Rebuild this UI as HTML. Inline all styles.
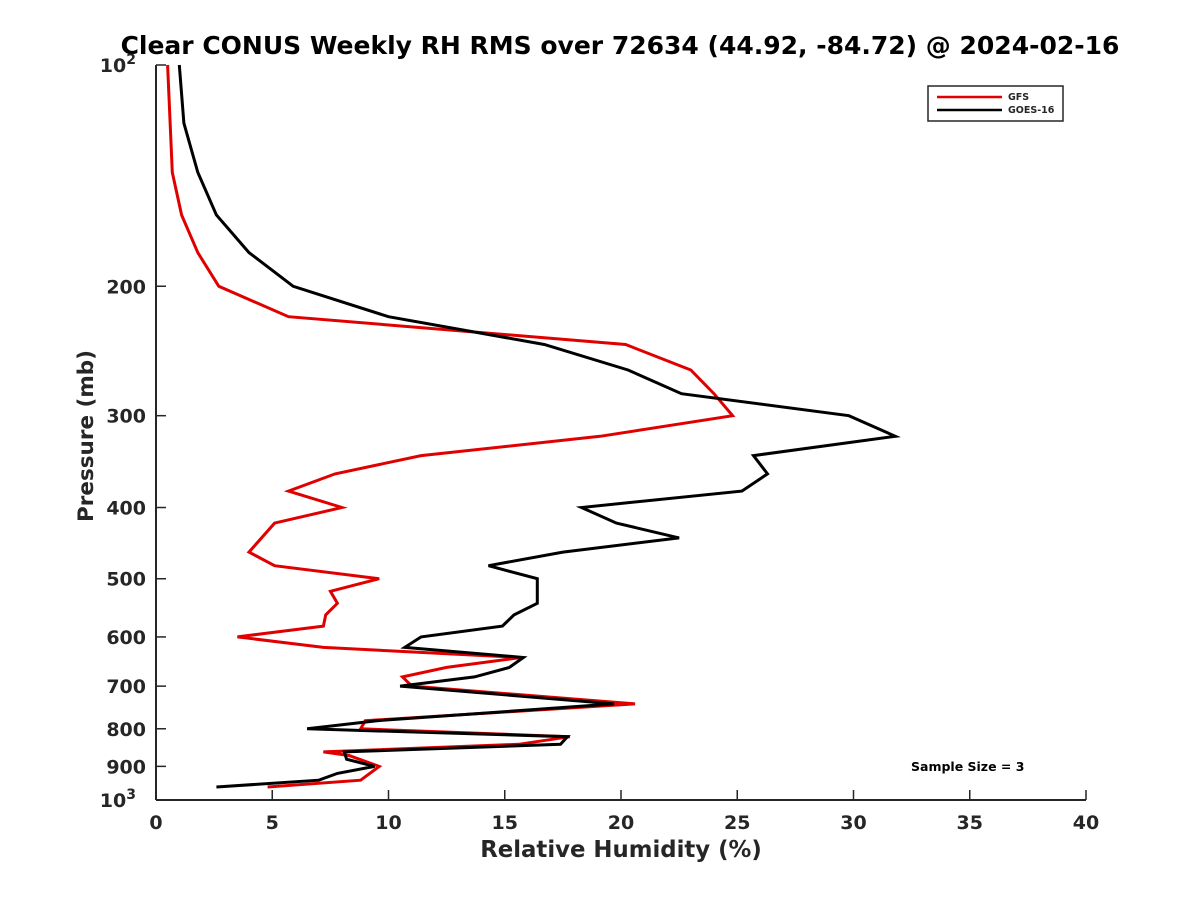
<!DOCTYPE html>
<html><head><meta charset="utf-8"><style>
body{margin:0;background:#fff}
svg text{font-family:"DejaVu Sans","Liberation Sans",sans-serif;font-weight:bold;fill:#262626}
</style></head><body>
<svg id="chart" width="1200" height="900" viewBox="0 0 1200 900" xmlns="http://www.w3.org/2000/svg">
<rect width="1200" height="900" fill="#fff"/>
<text x="620" y="54" font-size="25" text-anchor="middle" style="fill:#000">Clear CONUS Weekly RH RMS over 72634 (44.92, -84.72) @ 2024-02-16</text>
<g id="axes"></g>
<g id="series"></g>
<text x="621" y="857" font-size="22.8" text-anchor="middle">Relative Humidity (%)</text>
<text transform="translate(93,436) rotate(-90)" font-size="21.5" text-anchor="middle">Pressure (mb)</text>
<g>
<rect x="928" y="86" width="135" height="35" fill="#fff" stroke="#262626" stroke-width="1.5"/>
<line x1="937" y1="97" x2="1002" y2="97" stroke="#e00000" stroke-width="2.5"/>
<text x="1008" y="100" font-size="9.5">GFS</text>
<line x1="937" y1="110" x2="1002" y2="110" stroke="#000" stroke-width="2.5"/>
<text x="1008" y="113" font-size="9.5">GOES-16</text>
</g>
<text x="911" y="771" font-size="12.5" style="fill:#000">Sample Size = 3</text>
</svg>
<script>
const xTicks=[0,5,10,15,20,25,30,35,40];
const yTicks=[100,200,300,400,500,600,700,800,900,1000];
const yTickLabels=["10²","200","300","400","500","600","700","800","900","10³"];
const gfsPressure=[100,140,160,180,200,220,240,260,280,300,320,340,360,380,400,420,460,480,500,520,540,560,580,600,620,640,660,680,700,740,780,800,820,840,860,870,900,940,960];
const gfsRH=[0.5,0.7,1.1,1.8,2.7,5.7,20.2,23.0,24.0,24.8,19.1,11.4,7.7,5.7,8.0,5.1,4.0,5.1,9.6,7.5,7.8,7.3,7.2,3.5,7.2,15.7,12.5,10.6,11.0,20.6,9.0,8.8,17.8,15.6,7.2,8.3,9.6,8.8,4.8];
const goesPressure=[100,120,140,160,180,200,220,240,260,280,300,320,340,360,380,400,420,440,460,480,500,540,560,580,600,620,640,660,680,700,740,780,800,820,840,860,880,900,920,940,960];
const goesRH=[1.0,1.2,1.8,2.6,4.0,5.9,10.0,16.7,20.3,22.6,29.8,31.8,25.7,26.3,25.2,18.3,19.8,22.5,17.5,14.3,16.4,16.4,15.4,14.9,11.4,10.7,15.8,15.2,13.7,10.5,19.7,9.5,6.5,17.7,17.4,8.1,8.2,9.4,7.8,7.0,2.6];
const L=156,R=1086,T=65,B=800;
const xs=v=>L+(v-0)/40*(R-L);
const ys=p=>T+(B-T)*Math.log10(p/100);
const NS="http://www.w3.org/2000/svg";
function mk(tag,attrs,parent){const e=document.createElementNS(NS,tag);for(const k in attrs)e.setAttribute(k,attrs[k]);parent.appendChild(e);return e;}
const ax=document.getElementById('axes');
let a=mk('line',{x1:L,y1:T,x2:L,y2:B,stroke:'#262626','stroke-width':2},ax);


a=mk('line',{x1:L,y1:B,x2:R,y2:B,stroke:'#262626','stroke-width':2},ax);


xTicks.forEach(v=>{
  const x=xs(v);
  const t=mk('line',{x1:x,y1:B,x2:x,y2:B-10,stroke:'#262626','stroke-width':1.5},ax);
  
  
  const l=mk('text',{x:x,y:829,'font-size':19,'text-anchor':'middle'},ax);
  l.textContent=v;
  
  
});
yTicks.forEach((p,i)=>{
  const y=ys(p);
  const t=mk('line',{x1:L,y1:y,x2:L+10,y2:y,stroke:'#262626','stroke-width':1.5},ax);
  
  
  const l=mk('text',{x:146,y:y+7,'font-size':19,'text-anchor':'end'},ax);
  const s=yTickLabels[i];
  if(s.indexOf('²')>=0||s.indexOf('³')>=0){
    l.textContent='10';
    const sp=mk('tspan',{dy:-8,'font-size':14},l);sp.textContent=s.indexOf('²')>=0?'2':'3';
    l.setAttribute('x',146-10);
  } else l.textContent=s;
  
  
});
const sg=document.getElementById('series');
function drawLine(P,V,color,name){
  const d=P.map((p,i)=>(i?'L':'M')+xs(V[i]).toFixed(1)+','+ys(p).toFixed(1)).join(' ');
  const e=mk('path',{d:d,fill:'none',stroke:color,'stroke-width':3,'stroke-linejoin':'miter'},sg);
  
  
}
drawLine(gfsPressure,gfsRH,'#e00000','gfs-line');
drawLine(goesPressure,goesRH,'#000','goes16-line');
</script>
</body></html>
